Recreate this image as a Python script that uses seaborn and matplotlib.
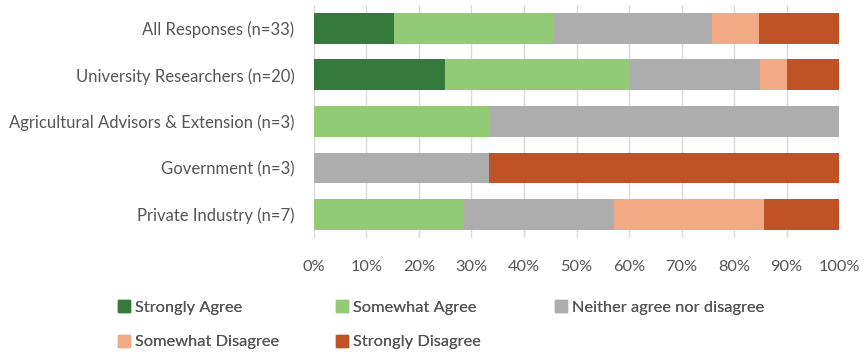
import matplotlib
matplotlib.use("Agg")
import matplotlib.pyplot as plt
import matplotlib.patches as mpatches
import numpy as np
import pandas as pd
import seaborn as sns

# Survey responses by group (percent of respondents)
groups = [
    "All Responses (n=33)",
    "University Researchers (n=20)",
    "Agricultural Advisors & Extension (n=3)",
    "Government (n=3)",
    "Private Industry (n=7)",
]
strongly_agree = [15.2, 25.0, 0.0, 0.0, 0.0]
somewhat_agree = [30.3, 35.0, 33.3, 0.0, 28.6]
neither = [30.3, 25.0, 66.7, 33.3, 28.6]
somewhat_disagree = [9.1, 5.0, 0.0, 0.0, 28.6]
strongly_disagree = [15.2, 10.0, 0.0, 66.7, 14.3]

responses = [
    "Strongly Agree",
    "Somewhat Agree",
    "Neither agree nor disagree",
    "Somewhat Disagree",
    "Strongly Disagree",
]
series = [strongly_agree, somewhat_agree, neither, somewhat_disagree, strongly_disagree]
colors = ["#357a3a", "#92cb76", "#adadad", "#f2aa84", "#c05228"]
text_color = "#555555"

sns.set_theme(style="white")
plt.rcParams["font.family"] = ["Lato", "DejaVu Sans"]

fig = plt.figure(figsize=(8.64, 3.55), dpi=100)
ax = fig.add_axes([0.3634, 0.3296, 0.6077, 0.6564])

# Stacked bars: draw cumulative totals from the outermost segment inward
cum = np.cumsum(np.array(series), axis=0)
cum = cum / cum[-1] * 100
for i in range(len(responses) - 1, -1, -1):
    df = pd.DataFrame({"group": groups, "value": cum[i]})
    sns.barplot(data=df, x="value", y="group", order=groups, color=colors[i],
                orient="h", width=0.66, linewidth=0, errorbar=None,
                saturation=1, ax=ax)

ax.set_xlim(0, 100)
ax.set_ylim(4.5, -0.5)
ax.set_xticks(np.arange(0, 101, 10))
ax.set_xticklabels([f"{t}%" for t in range(0, 101, 10)])
ax.set_xlabel("")
ax.set_ylabel("")
ax.grid(axis="x", color="#d9d9d9", linewidth=1)
ax.grid(axis="y", visible=False)
ax.set_axisbelow(True)
for s in ax.spines.values():
    s.set_visible(False)
ax.tick_params(axis="x", length=0, pad=16, labelsize=11.8, labelcolor=text_color)
ax.tick_params(axis="y", length=0, pad=14, labelsize=12, labelcolor=text_color)

# Legend laid out in fixed-width columns, row by row
columns = [[0, 3], [1, 4], [2]]
col_x = [0.1366, 0.389, 0.642]
for cx, idxs in zip(col_x, columns):
    handles = [mpatches.Patch(color=colors[k], label=responses[k]) for k in idxs]
    leg = fig.legend(handles=handles, loc="upper left", bbox_to_anchor=(cx, 0.154),
                     frameon=False, fontsize=11.8, labelcolor=text_color,
                     handlelength=0.75, handleheight=0.75, handletextpad=0.3,
                     labelspacing=1.2, borderpad=0, borderaxespad=0)
    fig.add_artist(leg)

fig.savefig("out.png", dpi=100)
